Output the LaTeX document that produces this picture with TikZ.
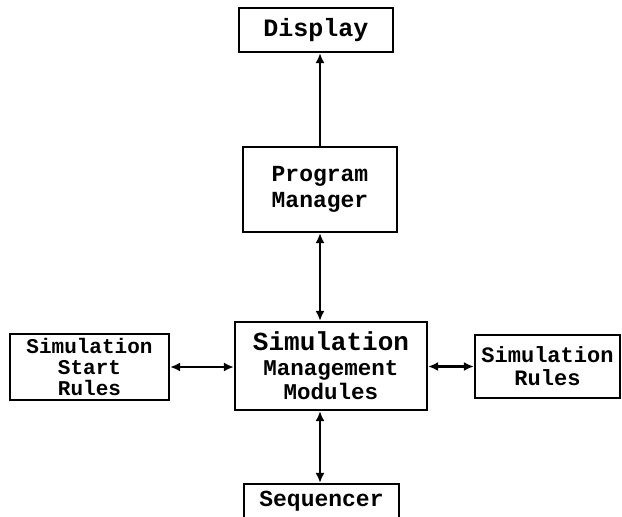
\documentclass[tikz,border=0pt]{standalone}
\usepackage{fontspec}
\setmonofont{Liberation Mono}
\usepackage{tikz}
\usetikzlibrary{arrows.meta}

\begin{document}
\begin{tikzpicture}[blk/.style={draw,line width=2.2bp,inner sep=0pt,align=center,font=\ttfamily\bfseries\fontsize{23bp}{22bp}\selectfont},
  link/.style={line width=2.2bp,{Latex[length=10bp,width=9bp]}-{Latex[length=10bp,width=9bp]}}]

\useasboundingbox (0bp,0bp) rectangle (622bp,-517bp);
\clip (0bp,0bp) rectangle (622bp,-517bp);

\node (disp) at (316bp,-30bp)[blk,minimum width=154bp,minimum height=44bp,font=\ttfamily\bfseries\fontsize{25bp}{20bp}\selectfont] {Display};
\node (pm) at (320bp,-189.5bp)[blk,minimum width=154bp,minimum height=85bp,font=\ttfamily\bfseries\fontsize{23bp}{26bp}\selectfont] {Program\\Manager};
\node (smm) at (331bp,-366bp)[blk,minimum width=192bp,minimum height=88bp,font=\ttfamily\bfseries\fontsize{22.5bp}{24.5bp}\selectfont] {{\fontsize{26bp}{24.5bp}\selectfont Simulation}\\Management\\Modules};
\node (ssr) at (89.5bp,-367bp)[blk,minimum width=159bp,minimum height=66bp,font=\ttfamily\bfseries\fontsize{21bp}{21bp}\selectfont] {Simulation\\Start\\Rules};
\node (sr) at (547.5bp,-366.5bp)[blk,minimum width=145bp,minimum height=63bp,font=\ttfamily\bfseries\fontsize{22bp}{23bp}\selectfont] {Simulation\\Rules};
\node (seq) at (321.5bp,-501bp)[blk,minimum width=155bp,minimum height=34bp] {Sequencer};

\draw [line width=2.2bp,-{Latex[length=10bp,width=9bp]}] (pm.north) to (pm.north |- disp.south);
\draw [link] (pm.south) to (pm.south |- smm.north);
\draw [link] (smm.south -| pm.south) to (seq.north -| pm.south);
\draw [link] (ssr.east) to (ssr.east -| smm.west);
\draw [link] (smm.east |- sr.west) to (sr.west);
\end{tikzpicture}
\end{document}
